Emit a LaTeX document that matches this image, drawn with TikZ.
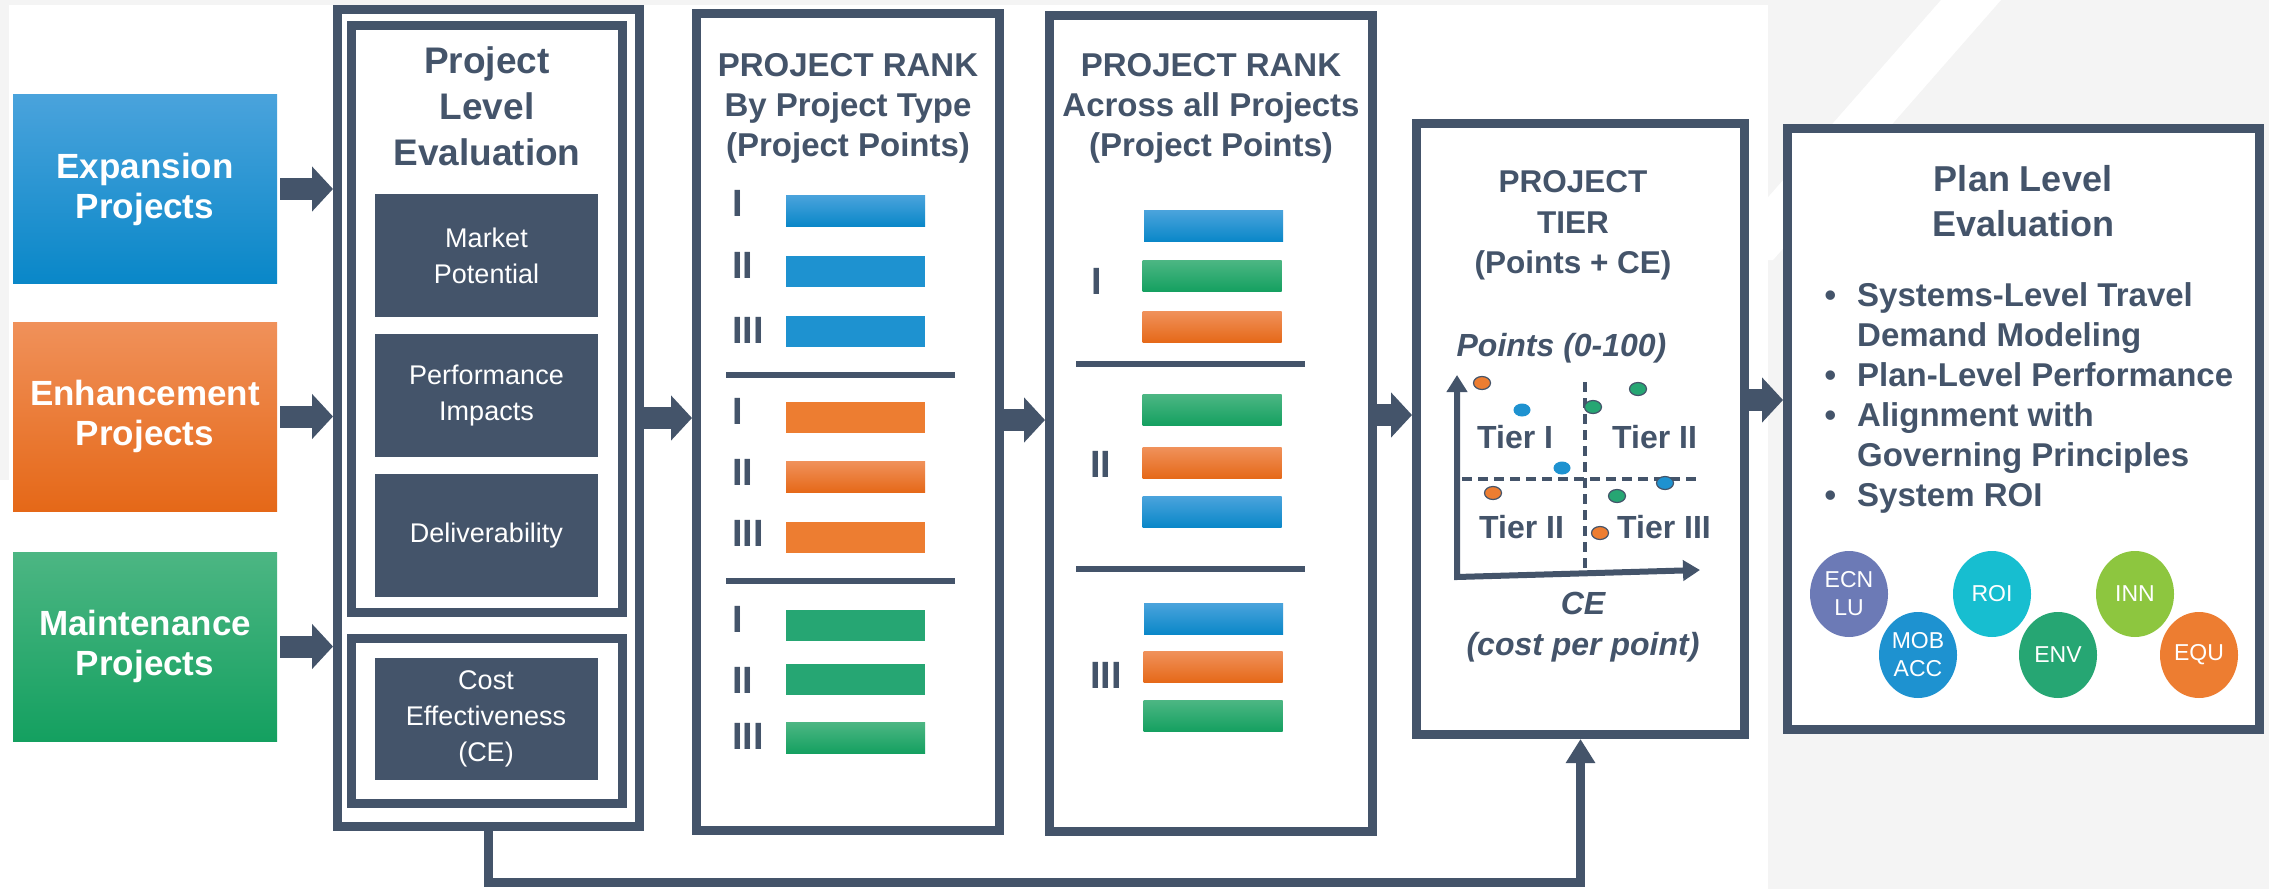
\documentclass[tikz,border=0pt]{standalone}
\usepackage{fontspec}
\setmainfont{Liberation Sans}
\usetikzlibrary{arrows.meta,shapes.geometric}
\definecolor{slate}{RGB}{68,84,106}
\definecolor{bgray}{RGB}{244,244,244}
\definecolor{bluetop}{RGB}{74,163,220}
\definecolor{bluebot}{RGB}{9,135,200}
\definecolor{blueflat}{RGB}{30,146,208}
\definecolor{orgtop}{RGB}{240,145,90}
\definecolor{orgbot}{RGB}{229,104,24}
\definecolor{orgflat}{RGB}{237,125,49}
\definecolor{grntop}{RGB}{76,182,131}
\definecolor{grnbot}{RGB}{20,160,96}
\definecolor{grnflat}{RGB}{38,166,115}
\definecolor{ecncol}{RGB}{108,122,182}
\definecolor{roicol}{RGB}{23,190,208}
\definecolor{inncol}{RGB}{141,198,63}
\newcommand{\fsz}[2]{\fontsize{#1pt}{#2pt}\selectfont}

\begin{document}
\begin{tikzpicture}[x=1pt,y=-1pt,
    frame/.style={rectangle,draw=slate,line width=9pt,fill=white,inner sep=0pt},
    typebox/.style={rectangle,minimum width=264pt,minimum height=189pt,inner sep=0pt,
      text=white,align=center,font=\fsz{35}{40}\bfseries},
    critbox/.style={rectangle,fill=slate,minimum width=223pt,minimum height=123pt,inner sep=0pt,
      text=white,align=center,font=\fsz{27}{36}},
    headtext/.style={text=slate,align=center,inner sep=0pt},
    bigarrow/.style={draw=slate,line width=22pt,-{Triangle[length=21pt,width=44pt]}},
    feedback/.style={draw=slate,line width=9pt,-{Triangle[length=24pt,width=28pt]}},
    sepline/.style={draw=slate,line width=6pt},
    numeral/.style={anchor=base west,inner sep=0pt,text=slate,font=\fsz{38}{38}\bfseries},
    bar/.style={rectangle,minimum width=139pt,minimum height=31pt,inner sep=0pt},
    gblue/.style={top color=bluetop,bottom color=bluebot},
    gorg/.style={top color=orgtop,bottom color=orgbot},
    ggrn/.style={top color=grntop,bottom color=grnbot},
    axisline/.style={draw=slate,line width=6pt,
      {Triangle[length=17pt,width=20pt]}-{Triangle[length=17pt,width=20pt]}},
    quadline/.style={draw=slate,line width=4pt,dash pattern=on 10pt off 6pt},
    axislabel/.style={text=slate,align=center,inner sep=0pt,font=\fsz{32}{41}\bfseries\itshape},
    tierlab/.style={anchor=base west,inner sep=0pt,text=slate,font=\fsz{32}{32}\bfseries},
    dot/.style={ellipse,minimum width=17pt,minimum height=13pt,inner sep=0pt},
    circ/.style={ellipse,minimum width=78pt,minimum height=86pt,inner sep=0pt,
      text=white,align=center,font=\fsz{23}{28}}]
  \useasboundingbox (0,0) rectangle (2269,889);

  % slide background
  \fill[bgray] (0,0) rectangle (2269,889);
  \fill[white] (9,5) rectangle (1768,889);
  \fill[white] (0,480) rectangle (9,889);
  \fill[white] (1941,0) -- (2001,0) -- (1773,260) -- (1713,260) -- cycle;

  % project types
  \node[typebox,top color=bluetop,bottom color=bluebot] (exp) at (145,189) {Expansion\\Projects};
  \node[typebox,top color=orgtop,bottom color=orgbot] (enh) at (145,416.5) {Enhancement\\Projects};
  \node[typebox,top color=grntop,bottom color=grnbot] (mnt) at (145,646.5) {Maintenance\\Projects};

  % project level evaluation
  \node[frame,minimum width=302pt,minimum height=817pt] (pframe) at (488.5,418) {};
  \node[frame,minimum width=271pt,minimum height=587pt] (pleval) at (487,319) {};
  \node[frame,minimum width=271pt,minimum height=165pt] (ceval) at (487,721) {};
  \node[headtext,font=\fsz{37}{46}\bfseries] (pltitle) at (487,106.5) {Project\\Level\\Evaluation};
  \node[critbox] (mkt) at (486.5,255.5) {Market\\Potential};
  \node[critbox] (perf) at (486.5,395.5) {Performance\\Impacts};
  \node[critbox] (deliv) at (486.5,535.5) {Deliverability};
  \node[critbox,minimum height=122pt] (cost) at (486,719) {Cost\\Effectiveness\\(CE)};

  \draw[bigarrow] ([xshift=3pt]exp.east) -- (exp.east -| pframe.west);
  \draw[bigarrow] ([xshift=3pt]enh.east) -- (enh.east -| pframe.west);
  \draw[bigarrow] ([xshift=3pt]mnt.east) -- (mnt.east -| pframe.west);

  % rank by project type
  \node[frame,minimum width=303pt,minimum height=817pt] (rank1) at (848,422) {};
  \node[headtext,font=\fsz{33}{40}\bfseries] (r1title) at (848,108.5) {PROJECT RANK\\By Project Type\\(Project Points)};
  \node[numeral] (r1n1) at (732,216) {I};
  \node[numeral] (r1n2) at (732,278) {II};
  \node[numeral] (r1n3) at (732,343) {III};
  \node[numeral] (r1n4) at (732,424) {I};
  \node[numeral] (r1n5) at (732,485) {II};
  \node[numeral] (r1n6) at (732,546) {III};
  \node[numeral] (r1n7) at (732,632) {I};
  \node[numeral] (r1n8) at (732,693) {II};
  \node[numeral] (r1n9) at (732,749) {III};
  \node[bar,gblue] (r1b1) at (855.5,211) {};
  \node[bar,fill=blueflat] (r1b2) at (855.5,271) {};
  \node[bar,fill=blueflat] (r1b3) at (855.5,331) {};
  \node[bar,fill=orgflat] (r1b4) at (855.5,417) {};
  \node[bar,gorg] (r1b5) at (855.5,477) {};
  \node[bar,fill=orgflat] (r1b6) at (855.5,537) {};
  \node[bar,fill=grnflat] (r1b7) at (855.5,625) {};
  \node[bar,fill=grnflat] (r1b8) at (855.5,679) {};
  \node[bar,ggrn] (r1b9) at (855.5,738) {};
  \draw[sepline] (726,375) -- (955,375);
  \draw[sepline] (726,581) -- (955,581);

  % rank across all projects
  \node[frame,minimum width=323pt,minimum height=816pt] (rank2) at (1211,423.5) {};
  \node[headtext,font=\fsz{33}{40}\bfseries] (r2title) at (1211,108.5) {PROJECT RANK\\Across all Projects\\(Project Points)};
  \node[numeral] (r2n1) at (1091,294) {I};
  \node[numeral] (r2n2) at (1090,477) {II};
  \node[numeral] (r2n3) at (1090,688) {III};
  \node[bar,gblue] (r2b1) at (1213.5,226) {};
  \node[bar,ggrn] (r2b2) at (1212,276) {};
  \node[bar,gorg] (r2b3) at (1212,327) {};
  \node[bar,ggrn] (r2b4) at (1212,410) {};
  \node[bar,gorg] (r2b5) at (1212,463) {};
  \node[bar,gblue] (r2b6) at (1212,512) {};
  \node[bar,gblue] (r2b7) at (1213.5,619) {};
  \node[bar,gorg] (r2b8) at (1213,667) {};
  \node[bar,ggrn] (r2b9) at (1213,716) {};
  \draw[sepline] (1076,364) -- (1305,364);
  \draw[sepline] (1076,569) -- (1305,569);

  \draw[bigarrow] (pframe.east) -- (pframe.east -| rank1.west);
  \draw[bigarrow] (rank1.east |- 0,420) -- (rank2.west |- 0,420);

  % project tier
  \node[frame,minimum width=328pt,minimum height=611pt] (tier) at (1580.5,429) {};
  \node[headtext,font=\fsz{31.5}{40.5}\bfseries] (ttitle) at (1573,225.5) {PROJECT\\TIER\\(Points + CE)};
  \node[axislabel,anchor=base] (ylab) at (1561.5,356) {Points (0-100)};
  \coordinate (ytip) at (1457,375);
  \coordinate (org) at (1457,577);
  \coordinate (xtip) at (1700,570);
  \draw[axisline] (ytip) -- (org) -- (xtip);
  \draw[quadline] (1585,382) -- (1585,569);
  \draw[quadline] (1462,479) -- (1702,479);
  \node[tierlab] (t1) at (1477,448) {Tier I};
  \node[tierlab] (t2a) at (1612,448) {Tier II};
  \node[tierlab] (t2b) at (1479,538) {Tier II};
  \node[tierlab] (t3) at (1617,538) {Tier III};
  \node[dot,fill=orgflat,draw=slate,line width=1.2pt] (d1) at (1482,383) {};
  \node[dot,fill=blueflat] (d2) at (1522,410) {};
  \node[dot,fill=grnflat,draw=slate,line width=1.2pt] (d3) at (1593,407) {};
  \node[dot,fill=grnflat,draw=slate,line width=1.2pt] (d4) at (1638,389) {};
  \node[dot,fill=blueflat] (d5) at (1562,468) {};
  \node[dot,fill=orgflat,draw=slate,line width=1.2pt] (d6) at (1493,493) {};
  \node[dot,fill=blueflat,draw=slate,line width=1.2pt] (d7) at (1665,483) {};
  \node[dot,fill=grnflat,draw=slate,line width=1.2pt] (d8) at (1617,496) {};
  \node[dot,fill=orgflat,draw=slate,line width=1.2pt] (d9) at (1600,533) {};
  \node[axislabel] (xlab) at (1583,627.5) {CE\\(cost per point)};

  \draw[bigarrow] (rank2.east |- 0,415) -- (tier.west |- 0,415);

  % plan level evaluation
  \node[frame,minimum width=472pt,minimum height=601pt] (plan) at (2023.5,429) {};
  \node[headtext,font=\fsz{36}{45}\bfseries] (ptitle) at (2023,201.4) {Plan Level\\Evaluation};
  \node[text=slate,align=left,inner sep=0pt,anchor=west,font=\fsz{33}{40}\bfseries] (blist) at (1857,397.5)
    {\llap{\textbullet\hspace{21pt}}Systems-Level Travel\\
     Demand Modeling\\
     \llap{\textbullet\hspace{21pt}}Plan-Level Performance\\
     \llap{\textbullet\hspace{21pt}}Alignment with\\
     Governing Principles\\
     \llap{\textbullet\hspace{21pt}}System ROI};
  \node[circ,fill=ecncol] (ecn) at (1849,594) {ECN\\LU};
  \node[circ,fill=blueflat] (mob) at (1918,655) {MOB\\ACC};
  \node[circ,fill=roicol] (roi) at (1992,594) {ROI};
  \node[circ,fill=grnflat] (env) at (2058,655) {ENV};
  \node[circ,fill=inncol] (inn) at (2135,594) {INN};
  \node[circ,fill=orgflat] (equ) at (2199,655) {EQU};

  \draw[bigarrow] (tier.east |- 0,400) -- (plan.west |- 0,400);

  % cost effectiveness feeds the tier
  \draw[feedback] (pframe.south) -- (pframe.south |- 0,882) -| (tier.south);
\end{tikzpicture}
\end{document}
